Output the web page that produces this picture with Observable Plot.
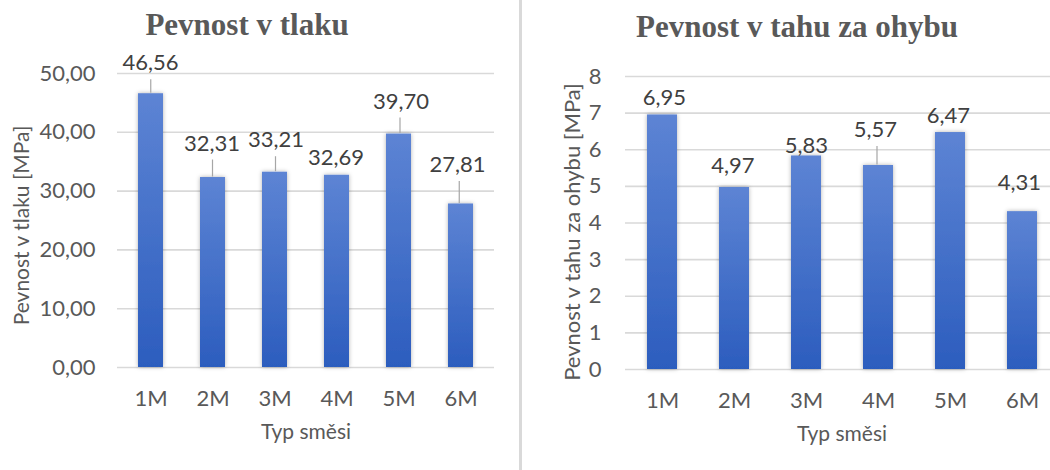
<!DOCTYPE html>
<html>
<head>
<meta charset="utf-8">
<script src="https://cdn.jsdelivr.net/npm/d3@7"></script>
<script src="https://cdn.jsdelivr.net/npm/@observablehq/plot@0.6"></script>
<style>
  html, body { margin: 0; padding: 0; background: #fff; }
  #wrap { position: relative; width: 1050px; height: 470px; overflow: hidden; background: #fff; }
  .panel { position: absolute; top: 0; height: 470px; }
  .title { position: absolute; top: 10px; font-family: "Liberation Serif", "DejaVu Serif", serif; font-weight: bold;
           font-size: 31px; line-height: 30px; color: #595959; white-space: nowrap; transform: translateX(-50%); }
  #divider { position: absolute; left: 519px; top: 0; width: 3px; height: 470px; background: #d9d9d9; }
  svg { display: block; max-width: none !important; }
</style>
</head>
<body>
<div id="wrap">
  <div class="panel" id="left" style="left:0px;width:520px"></div>
  <div class="panel" id="right" style="left:520px;width:545px"></div>
  <div id="divider"></div>
  <div class="title" style="left:247px">Pevnost v tlaku</div>
  <div class="title" style="left:797px;top:12px">Pevnost v tahu za ohybu</div>
</div>
<script>
// ---- data ----
const categories = ["1M", "2M", "3M", "4M", "5M", "6M"];
const compressive = [46.56, 32.31, 33.21, 32.69, 39.70, 27.81];
const flexural = [6.95, 4.97, 5.83, 5.57, 6.47, 4.31];
const compressiveTicks = [0, 10, 20, 30, 40, 50];
const flexuralTicks = [0, 1, 2, 3, 4, 5, 6, 7, 8];
const compressiveTitle = "Pevnost v tlaku [MPa]";
const flexuralTitle = "Pevnost v tahu za ohybu [MPa]";
const xTitle = "Typ směsi";

// label nudges (pixels from bar top: dx, dy, leader line?)
const compressiveNudges = [[-0.5, -30.5, true], [-1, -34, true], [1, -32, true], [-1, -17, false], [2, -32.5, true], [-3.5, -39, true]];
const flexuralNudges = [[2, -17, false], [-1.5, -22, false], [0, -10, false], [-3, -35.6, true], [-2, -17, false], [-3, -28.5, false]];

const comma = (s) => s.replace(".", ",");

function panel(cfg) {
  const {values, ticks, tickDecimals, width, height, marginLeft, marginRight, marginTop, marginBottom,
         yTitle, nudges, tickPadding, gradId, yTitleDx, yTitleDy, xTitleDy, yTitleSize} = cfg;
  const rows = categories.map((c, i) => ({cat: c, v: values[i], dx: nudges[i][0], dy: nudges[i][1], leader: nudges[i][2]}));
  const ymax = ticks[ticks.length - 1];
  const ppu = (height - marginTop - marginBottom) / ymax;
  const labelFmt = (d) => comma(d3.format(".2f")(d));
  const tickFmt = (d) => comma(d3.format("." + tickDecimals + "f")(d));
  const labelMarks = rows.map((r) => Plot.text([r], {
    x: "cat", y: "v", text: (d) => labelFmt(d.v), dx: r.dx, dy: r.dy,
    fill: "#404040", fontSize: 22
  }));
  const leaderMarks = rows.filter((r) => r.leader).map((r) => Plot.link([r], {
    x1: "cat", x2: "cat", y1: (d) => d.v + 1 / ppu, y2: (d) => d.v + (-d.dy - 16) / ppu,
    dx: r.dx / 2, stroke: "#a6a6a6", strokeWidth: 1.2
  }));
  const svg = Plot.plot({
    width, height, marginLeft, marginRight, marginTop, marginBottom,
    style: {fontFamily: "Lato, 'Open Sans', sans-serif", fontSize: "22px", color: "#595959", background: "transparent", maxWidth: "none"},
    x: {domain: categories, paddingInner: 0.59, paddingOuter: 0.295, label: null},
    y: {domain: [0, ymax], label: null},
    marks: [
      Plot.gridY(ticks, {stroke: "#d9d9d9", strokeOpacity: 1, strokeWidth: 1.6}),
      Plot.barY(rows, {x: "cat", y: "v", fill: `url(#${gradId})`}),
      Plot.axisY({ticks, tickFormat: tickFmt, tickSize: 0, tickPadding, label: null}),
      Plot.axisX({tickSize: 0, tickPadding: 23, label: null}),
      ...leaderMarks,
      ...labelMarks,
      Plot.text([xTitle], {text: (d) => d, frameAnchor: "bottom", dy: xTitleDy, fontSize: 21}),
      Plot.text([yTitle], {text: (d) => d, frameAnchor: "left", textAnchor: "middle", rotate: -90, dx: yTitleDx, dy: yTitleDy, fontSize: yTitleSize})
    ]
  });
  const s = d3.select(svg);
  const defs = s.insert("defs", ":first-child");
  const g = defs.append("linearGradient").attr("id", gradId)
    .attr("x1", 0).attr("y1", 0).attr("x2", 0).attr("y2", 1);
  g.append("stop").attr("offset", "0%").attr("stop-color", "#5d84d4");
  g.append("stop").attr("offset", "100%").attr("stop-color", "#2c5dbe");
  const f = defs.append("filter").attr("id", gradId + "-sh")
    .attr("x", "-30%").attr("y", "-10%").attr("width", "160%").attr("height", "120%");
  f.append("feDropShadow").attr("dx", 0).attr("dy", 0).attr("stdDeviation", 2)
    .attr("flood-color", "#000").attr("flood-opacity", 0.3);
  s.selectAll('g[aria-label="bar"]').attr("filter", `url(#${gradId}-sh)`);
  return svg;
}

document.getElementById("left").appendChild(panel({
  values: compressive, ticks: compressiveTicks, tickDecimals: 2,
  width: 520, height: 470, marginLeft: 117, marginRight: 26, marginTop: 73, marginBottom: 103,
  yTitle: compressiveTitle, nudges: compressiveNudges, tickPadding: 22, gradId: "gradL",
  yTitleDx: -95, yTitleDy: 5, xTitleDy: 71, yTitleSize: 21
}));
document.getElementById("right").appendChild(panel({
  values: flexural, ticks: flexuralTicks, tickDecimals: 0,
  width: 545, height: 470, marginLeft: 105, marginRight: 7, marginTop: 76, marginBottom: 101,
  yTitle: flexuralTitle, nudges: flexuralNudges, tickPadding: 24, gradId: "gradR",
  yTitleDx: -53, yTitleDy: 9, xTitleDy: 71, yTitleSize: 22
}));
</script>
</body>
</html>
